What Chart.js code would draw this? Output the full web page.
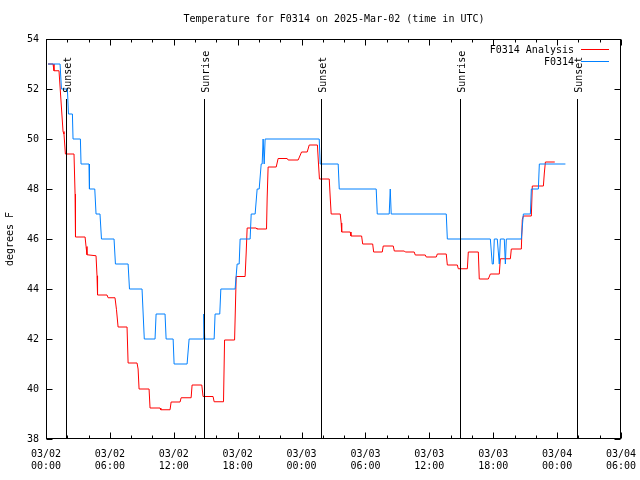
<!DOCTYPE html>
<html>
<head>
<meta charset="utf-8">
<title>Temperature for F0314</title>
<script src="https://cdn.jsdelivr.net/npm/chart.js@4.4.1/dist/chart.umd.min.js"></script>
<style>
  html, body { margin: 0; padding: 0; background: #fff; }
  #wrap { width: 640px; height: 480px; }
</style>
</head>
<body>
<div id="wrap"><canvas id="chart" width="640" height="480"></canvas></div>
<script>
// hours since 2025-03-02 00:00 UTC
const chartTitle = 'Temperature for F0314 on 2025-Mar-02 (time in UTC)';
const dayLabels = ['03/02', '03/03', '03/04'];
const xTickHours = [0, 6, 12, 18, 24, 30, 36, 42, 48, 54];
const yTicks = [38, 40, 42, 44, 46, 48, 50, 52, 54];

// F0314 Analysis (red)
const anaHours = [0.19, 0.66, 0.75, 1.22, 1.60, 1.69, 1.82, 2.63, 2.73, 2.77, 3.67, 3.76, 3.85,
  4.70, 4.79, 4.84, 5.73, 5.83, 6.48, 6.62, 6.77, 7.61, 7.71, 8.55, 8.65, 8.74, 9.68, 9.77,
  10.71, 10.78, 11.65, 11.75, 12.59, 12.69, 13.63, 13.72, 14.63, 14.75, 15.69, 15.79, 16.67,
  16.77, 17.71, 17.86, 18.70, 18.80, 18.89, 19.74, 19.80, 20.71, 20.77, 20.86, 21.62, 21.80,
  22.65, 22.74, 23.68, 24.00, 24.53, 24.72, 25.49, 25.58, 25.68, 26.60, 26.69, 26.78, 27.63,
  27.72, 27.77, 28.57, 28.64, 29.64, 29.74, 30.68, 30.77, 31.58, 31.67, 32.61, 32.71, 33.65,
  33.74, 34.58, 34.68, 35.62, 35.71, 36.65, 36.75, 37.59, 37.69, 38.63, 38.72, 39.57, 39.66,
  40.60, 40.69, 41.54, 41.73, 42.57, 42.67, 43.61, 43.70, 44.64, 44.73, 44.83, 45.58, 45.67,
  46.71, 46.80, 46.90, 47.78];
const anaTemps = [53.0, 53.0, 52.73, 52.73, 50.3, 50.2, 49.4, 49.4, 47.8, 46.08, 46.08, 45.7, 45.37,
  45.33, 44.53, 43.76, 43.76, 43.65, 43.65, 43.17, 42.48, 42.48, 41.04, 41.04, 40.8, 40.0, 40.0, 39.24,
  39.24, 39.17, 39.17, 39.48, 39.48, 39.65, 39.65, 40.16, 40.16, 39.7, 39.7, 39.49, 39.49,
  41.96, 41.96, 44.5, 44.5, 45.44, 46.44, 46.44, 46.4, 46.4, 47.64, 48.88, 48.88, 49.22,
  49.22, 49.16, 49.16, 49.48, 49.48, 49.76, 49.76, 49.08, 48.4, 48.4, 47.68, 47.0, 47.0,
  46.64, 46.28, 46.28, 46.12, 46.12, 45.8, 45.8, 45.48, 45.48, 45.72, 45.72, 45.52, 45.52,
  45.48, 45.48, 45.36, 45.36, 45.28, 45.28, 45.4, 45.4, 44.96, 44.96, 44.81, 44.81, 45.48,
  45.48, 44.4, 44.4, 44.6, 44.6, 45.21, 45.21, 45.6, 45.6, 46.77, 46.92, 46.92, 48.12,
  48.12, 48.64, 49.08, 49.08];

// F0314 observed (blue)
const obsHours = [0.19, 1.32, 1.45, 2.01, 2.11, 2.48, 2.54, 3.23, 3.29, 4.04, 4.08, 4.58, 4.70,
  5.07, 5.21, 6.39, 6.52, 7.71, 7.84, 9.02, 9.23, 10.24, 10.34, 11.18, 11.28, 11.94, 12.03,
  13.25, 13.44, 14.75, 14.82, 14.91, 15.79, 15.88, 16.32, 16.42, 17.76, 17.95, 18.14, 18.23,
  19.17, 19.27, 19.64, 19.83, 20.02, 20.21, 20.30, 20.39, 20.49, 20.58, 25.66, 25.75, 27.44,
  27.54, 31.01, 31.11, 32.23, 32.33, 32.42, 37.59, 37.69, 41.73, 41.91, 42.01, 42.10, 42.38,
  42.57, 42.67, 43.04, 43.14, 43.23, 44.64, 44.83, 45.49, 45.58, 46.24, 46.33, 48.78];
const obsTemps = [53, 53, 52, 52, 51, 51, 50, 50, 49, 49, 48, 48, 47,
  47, 46, 46, 45, 45, 44, 44, 42, 42, 43, 43, 42, 42, 41,
  41, 42, 42, 43, 42, 42, 43, 43, 44, 44, 45, 45, 46,
  46, 47, 47, 48, 48, 49, 49, 50, 49, 50, 50, 49, 49,
  48, 48, 47, 47, 48, 47, 47, 46, 46, 45, 45, 46, 46,
  45, 46, 46, 45, 46, 46, 47, 47, 48, 48, 49, 49];

// sunrise / sunset markers
const sunHours = [1.92, 14.85, 25.85, 38.9, 49.9];
const sunLabels = ['Sunset', 'Sunrise', 'Sunset', 'Sunrise', 'Sunset'];
const sunLineTop = 51.6;
const sunLabelBase = 51.85;

const seriesNames = ['F0314 Analysis', 'F0314'];
const seriesColors = ['rgb(255,0,0)', 'rgb(0,128,255)'];

const FONT = '10px "DejaVu Sans Mono", monospace';

function pad2(n) { return (n < 10 ? '0' : '') + n; }

const gnuplotDecor = {
    id: 'gnuplotDecor',
    afterDatasetsDraw(chart) {
        const ctx = chart.ctx;
        const xs = chart.scales.x, ys = chart.scales.y;
        ctx.save();
        ctx.strokeStyle = '#000';
        ctx.lineWidth = 1;
        ctx.fillStyle = '#000';
        ctx.font = FONT;
        sunHours.forEach((h, i) => {
            const px = Math.round(xs.getPixelForValue(h)) + 0.5;
            ctx.beginPath();
            ctx.moveTo(px, ys.getPixelForValue(38));
            ctx.lineTo(px, ys.getPixelForValue(sunLineTop));
            ctx.stroke();
            // rotated label, reading upward
            ctx.save();
            ctx.translate(px + 2, ys.getPixelForValue(sunLabelBase));
            ctx.rotate(-Math.PI / 2);
            ctx.textAlign = 'left';
            ctx.textBaseline = 'middle';
            ctx.fillText(sunLabels[i], 0, 0);
            ctx.restore();
        });
        ctx.restore();
    },
    afterDraw(chart) {
        const ctx = chart.ctx;
        const a = chart.chartArea;
        const xs = chart.scales.x, ys = chart.scales.y;
        const L = a.left + 0.5, R = a.right - 0.5, T = a.top + 0.5, B = a.bottom - 0.5;
        ctx.save();
        ctx.strokeStyle = '#000';
        ctx.lineWidth = 1;
        ctx.strokeRect(L, T, R - L, B - T);

        // inward tics, mirrored
        ctx.beginPath();
        yTicks.forEach(v => {
            const py = Math.round(ys.getPixelForValue(v)) + 0.5;
            ctx.moveTo(L, py); ctx.lineTo(L + 6, py);
            ctx.moveTo(R, py); ctx.lineTo(R - 6, py);
        });
        for (let h = 0; h <= 54; h += 2) {
            const px = Math.round(xs.getPixelForValue(h)) + 0.5;
            const len = h % 6 === 0 ? 6 : 3;
            ctx.moveTo(px, B); ctx.lineTo(px, B - len);
            ctx.moveTo(px, T); ctx.lineTo(px, T + len);
        }
        ctx.stroke();

        ctx.fillStyle = '#000';
        ctx.font = FONT;
        ctx.textBaseline = 'middle';
        ctx.textAlign = 'center';
        ctx.fillText(chartTitle, 334, 19);

        // y axis title
        ctx.save();
        ctx.translate(10, (a.top + a.bottom) / 2);
        ctx.rotate(-Math.PI / 2);
        ctx.fillText('degrees F', 0, 0);
        ctx.restore();

        // key, top right
        for (let i = 0; i < seriesNames.length; i++) {
            const y = 50 + i * 12;
            ctx.textAlign = 'right';
            ctx.fillStyle = '#000';
            ctx.fillText(seriesNames[i], 574, y);
            ctx.fillStyle = seriesColors[i];
            ctx.fillRect(581, y - 1, 28, 1);
        }
        ctx.restore();
    }
};

const ctx = document.getElementById('chart').getContext('2d');
new Chart(ctx, {
    type: 'line',
    data: {
        datasets: [
            {
                label: seriesNames[1],
                data: obsHours.map((h, i) => ({ x: h, y: obsTemps[i] })),
                borderColor: seriesColors[1],
                borderWidth: 1,
                pointRadius: 0,
                tension: 0,
                fill: false,
                order: 0
            },
            {
                label: seriesNames[0],
                data: anaHours.map((h, i) => ({ x: h, y: anaTemps[i] })),
                borderColor: seriesColors[0],
                borderWidth: 1,
                pointRadius: 0,
                tension: 0,
                fill: false,
                order: 1
            }
        ]
    },
    options: {
        responsive: false,
        animation: false,
        events: [],
        layout: { padding: { top: 39, right: 19, left: 0, bottom: 0 } },
        plugins: {
            legend: { display: false },
            tooltip: { enabled: false },
            title: { display: false }
        },
        scales: {
            x: {
                type: 'linear',
                min: 0,
                max: 54,
                afterFit: s => { s.height = 41; s.paddingLeft = 0; s.paddingRight = 0; },
                afterBuildTicks: s => { s.ticks = xTickHours.map(v => ({ value: v })); },
                grid: { display: false, drawTicks: false },
                border: { display: false },
                ticks: {
                    autoSkip: false,
                    maxRotation: 0,
                    padding: 9,
                    color: '#000',
                    font: { family: '"DejaVu Sans Mono", monospace', size: 10, lineHeight: 1.2 },
                    callback: v => [dayLabels[Math.floor(v / 24)], pad2(v % 24) + ':00']
                }
            },
            y: {
                min: 38,
                max: 54,
                afterFit: s => { s.width = 46; s.paddingTop = 0; s.paddingBottom = 0; },
                afterBuildTicks: s => { s.ticks = yTicks.map(v => ({ value: v })); },
                grid: { display: false, drawTicks: false },
                border: { display: false },
                ticks: {
                    padding: 7,
                    color: '#000',
                    font: { family: '"DejaVu Sans Mono", monospace', size: 10 }
                }
            }
        }
    },
    plugins: [gnuplotDecor]
});
</script>
</body>
</html>
